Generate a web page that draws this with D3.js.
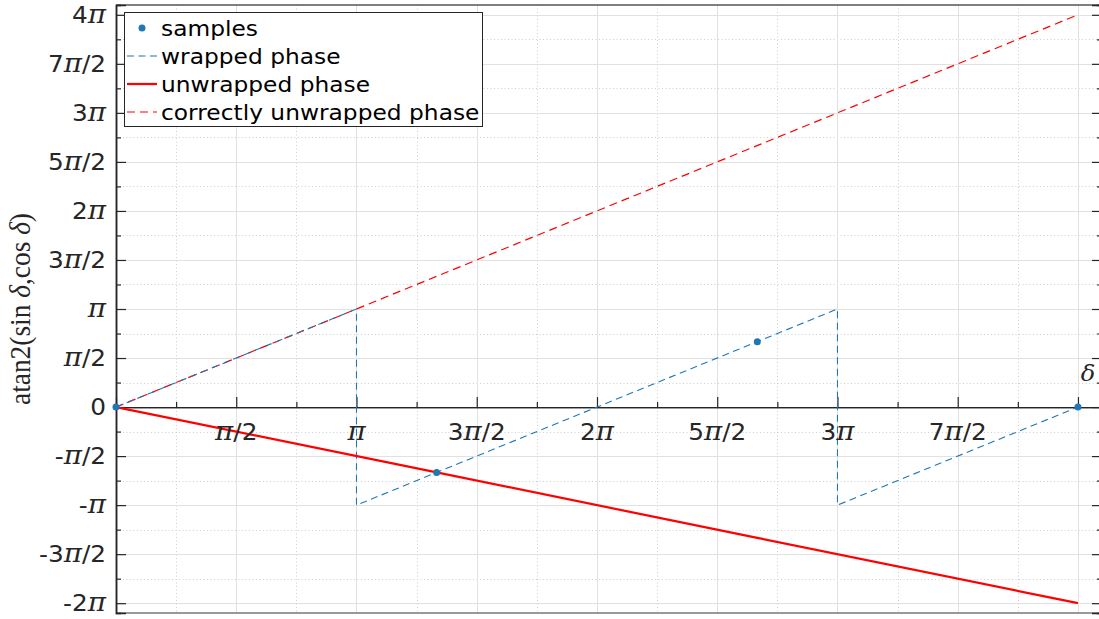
<!DOCTYPE html>
<html>
<head>
<meta charset="utf-8">
<script src="https://cdn.jsdelivr.net/npm/d3@7/dist/d3.min.js"></script>
<style>
  html, body { margin: 0; padding: 0; background: #fff; }
  svg { display: block; }
</style>
</head>
<body>
<svg id="chart" width="1099" height="619"></svg>
<script>
// All angles are expressed in multiples of π.
const xTicks = [0.5, 1, 1.5, 2, 2.5, 3, 3.5];
const xTickLabels = ["π/2", "π", "3π/2", "2π", "5π/2", "3π", "7π/2"];
const yTicks = [-2, -1.5, -1, -0.5, 0, 0.5, 1, 1.5, 2, 2.5, 3, 3.5, 4];
const yTickLabels = ["-2π", "-3π/2", "-π", "-π/2", "0", "π/2", "π", "3π/2", "2π", "5π/2", "3π", "7π/2", "4π"];

// sampled phase values
const sampleDelta = [0, 4 / 3, 8 / 3, 4];
const samplePhase = [0, -2 / 3, 2 / 3, 0];

// wrapped phase atan2(sin δ, cos δ)
const wrappedDelta = [0, 1, 1, 3, 3, 4];
const wrappedPhase = [0, 1, -1, 1, -1, 0];

// phase unwrapped from the samples
const unwrappedDelta = [0, 4 / 3, 8 / 3, 4];
const unwrappedPhase = [0, -2 / 3, -4 / 3, -2];

// true phase
const correctDelta = [0, 4];
const correctPhase = [0, 4];

const legendLabels = ["samples", "wrapped phase", "unwrapped phase", "correctly unwrapped phase"];

const BLUE = "#1f77b4";
const RED = "#ff0000";
const AXIS = "#262626";
const SX = 1.1;           // horizontal stretch of the type
const TICK_FONT = 22.5;
const LEG_FONT = 21;

const svg = d3.select("#chart");
svg.append("rect").attr("width", 1099).attr("height", 619).attr("fill", "#fff");

const x = d3.scaleLinear().domain([0, 4.1]).range([116, 1102]);
const y = d3.scaleLinear().domain([-2.1, 4.1]).range([613, 5]);
const [x0, x1] = x.range();
const [y0, y1] = [y(4.1), y(-2.1)];

// ---- grid ----
const grid = svg.append("g");
const xMajor = d3.range(0.5, 4.01, 0.5);
const xMinor = d3.range(0.25, 4.1, 0.5);
const yMajor = d3.range(-2, 4.01, 0.5);
const yMinor = d3.range(-1.75, 4.1, 0.5);

grid.selectAll(".xmin").data(xMinor).join("line")
  .attr("x1", d => Math.round(x(d)) + 0.5).attr("x2", d => Math.round(x(d)) + 0.5)
  .attr("y1", y0).attr("y2", y1)
  .attr("stroke", "#cfcfcf").attr("stroke-dasharray", "1,2.5");
grid.selectAll(".ymin").data(yMinor).join("line")
  .attr("y1", d => Math.round(y(d)) + 0.5).attr("y2", d => Math.round(y(d)) + 0.5)
  .attr("x1", x0).attr("x2", x1)
  .attr("stroke", "#cfcfcf").attr("stroke-dasharray", "1,2.5");
grid.selectAll(".xmaj").data(xMajor).join("line")
  .attr("x1", d => Math.round(x(d)) + 0.5).attr("x2", d => Math.round(x(d)) + 0.5)
  .attr("y1", y0).attr("y2", y1)
  .attr("stroke", "#e1e1e1");
grid.selectAll(".ymaj").data(yMajor).join("line")
  .attr("y1", d => Math.round(y(d)) + 0.5).attr("y2", d => Math.round(y(d)) + 0.5)
  .attr("x1", x0).attr("x2", x1)
  .attr("stroke", "#e1e1e1");

// ---- box ----
const box = svg.append("g").attr("stroke", AXIS).attr("fill", "none");
box.append("line").attr("x1", x0).attr("x2", x1).attr("y1", y0).attr("y2", y0)
  .attr("stroke-width", 1.5).attr("stroke", "#555");
box.append("line").attr("x1", x0).attr("x2", x1).attr("y1", y1).attr("y2", y1)
  .attr("stroke-width", 1.5).attr("stroke", "#777");

// ---- y axes (left and mirrored right) ----
const yAxisL = d3.axisRight(y).tickValues(yMajor).tickSize(10).tickFormat("");
const yAxisLMinor = d3.axisRight(y).tickValues(yMinor).tickSize(5).tickFormat("");
const yAxisR = d3.axisLeft(y).tickValues(yMajor).tickSize(10).tickFormat("");
const yAxisRMinor = d3.axisLeft(y).tickValues(yMinor).tickSize(5).tickFormat("");
[[yAxisL, x0], [yAxisLMinor, x0], [yAxisR, x1], [yAxisRMinor, x1]].forEach(([ax, px]) => {
  const g = svg.append("g").attr("transform", `translate(${px},0)`).call(ax);
  g.select(".domain").attr("stroke", AXIS).attr("stroke-width", 1.5);
  g.selectAll(".tick line").attr("stroke", AXIS).attr("stroke-width", 1.2);
});

// ---- x axis through the origin ----
const xAxis = d3.axisTop(x).tickValues(xMajor).tickSize(10).tickFormat("");
const xAxisMinor = d3.axisTop(x).tickValues(xMinor).tickSize(5).tickFormat("");
[xAxis, xAxisMinor].forEach(ax => {
  const g = svg.append("g").attr("transform", `translate(0,${y(0)})`).call(ax);
  g.select(".domain").attr("stroke", AXIS).attr("stroke-width", 1.2);
  g.selectAll(".tick line").attr("stroke", AXIS).attr("stroke-width", 1.2);
});

// text helper: π drawn in a serif italic face, everything else sans
function label(parent, px, py, str, anchor, size) {
  const g = parent.append("g").attr("transform", `translate(${px},${py}) scale(${SX},1)`);
  const t = g.append("text").attr("text-anchor", anchor)
    .attr("font-family", "DejaVu Sans").attr("font-size", size).attr("fill", AXIS);
  str.split(/(π)/).filter(s => s.length).forEach(s => {
    const sp = t.append("tspan").text(s);
    if (s === "π") sp.attr("font-family", "DejaVu Serif").attr("font-style", "italic")
      .attr("font-size", size * 1.12);
  });
  return t;
}

// ---- data ----
const line = d3.line().x(d => x(d[0])).y(d => y(d[1]));
const plot = svg.append("g");

plot.append("path").datum(d3.zip(correctDelta, correctPhase)).attr("d", line)
  .attr("fill", "none").attr("stroke", RED).attr("stroke-width", 1.2).attr("stroke-dasharray", "8,5");
plot.append("path").datum(d3.zip(wrappedDelta, wrappedPhase)).attr("d", line)
  .attr("fill", "none").attr("stroke", BLUE).attr("stroke-width", 1.1).attr("stroke-dasharray", "7,4.5");
plot.append("path").datum(d3.zip(unwrappedDelta, unwrappedPhase)).attr("d", line)
  .attr("fill", "none").attr("stroke", RED).attr("stroke-width", 2.2);
plot.selectAll("circle").data(d3.zip(sampleDelta, samplePhase)).join("circle")
  .attr("cx", d => x(d[0])).attr("cy", d => y(d[1])).attr("r", 3.5).attr("fill", BLUE);

// ---- tick labels ----
const labels = svg.append("g");
yTicks.forEach((v, i) => label(labels, 106, y(v) + 8, yTickLabels[i], "end", TICK_FONT));
xTicks.forEach((v, i) => label(labels, x(v), y(0) + 33, xTickLabels[i], "middle", TICK_FONT));

// axis labels
svg.append("g").attr("transform", `translate(${x(4) + 10},${y(0) - 26}) scale(${SX},1)`)
  .append("text").attr("text-anchor", "middle")
  .attr("font-family", "DejaVu Serif").attr("font-style", "italic")
  .attr("font-size", 22).attr("fill", AXIS).text("δ");

const yl = svg.append("text")
  .attr("transform", `translate(30,${(y0 + y1) / 2}) rotate(-90)`)
  .attr("text-anchor", "middle")
  .attr("font-family", "Liberation Serif").attr("font-size", 30).attr("fill", AXIS)
  .attr("textLength", 192).attr("lengthAdjust", "spacingAndGlyphs");
yl.append("tspan").text("atan2(sin ");
yl.append("tspan").attr("font-style", "italic").text("δ");
yl.append("tspan").text(",cos ");
yl.append("tspan").attr("font-style", "italic").text("δ");
yl.append("tspan").text(")");

// ---- legend ----
const leg = svg.append("g");
leg.append("rect").attr("x", 124.5).attr("y", 12.5).attr("width", 358).attr("height", 114)
  .attr("fill", "#fff").attr("stroke", AXIS).attr("stroke-width", 1);
const rowY = d3.range(legendLabels.length).map(i => 28 + i * 28);
leg.append("circle").attr("cx", 142).attr("cy", rowY[0]).attr("r", 3.5).attr("fill", BLUE);
leg.append("line").attr("x1", 127).attr("x2", 157).attr("y1", rowY[1]).attr("y2", rowY[1])
  .attr("stroke", BLUE).attr("stroke-width", 1.1).attr("stroke-dasharray", "7,4.5");
leg.append("line").attr("x1", 127).attr("x2", 157).attr("y1", rowY[2]).attr("y2", rowY[2])
  .attr("stroke", RED).attr("stroke-width", 2.2);
leg.append("line").attr("x1", 127).attr("x2", 157).attr("y1", rowY[3]).attr("y2", rowY[3])
  .attr("stroke", RED).attr("stroke-width", 1.2).attr("stroke-dasharray", "8,5");
legendLabels.forEach((t, i) => {
  leg.append("g").attr("transform", `translate(161,${rowY[i] + 7.5}) scale(${SX * 1.01},1)`)
    .append("text").attr("font-family", "DejaVu Sans").attr("font-size", LEG_FONT)
    .attr("fill", "#000").text(t);
});
</script>
</body>
</html>
